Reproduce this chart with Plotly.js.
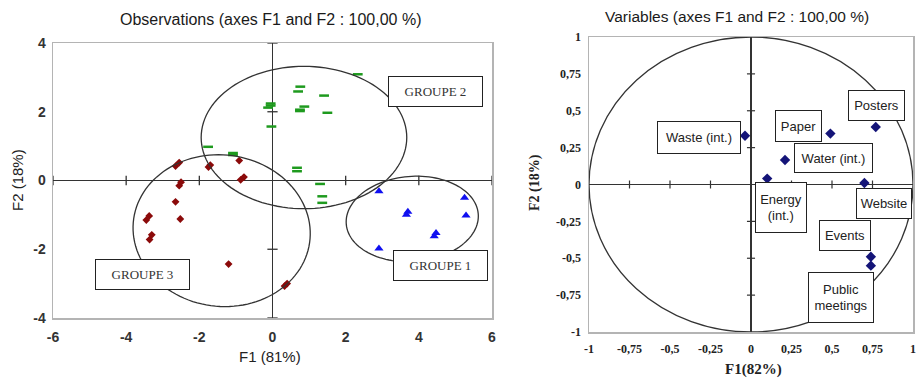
<!DOCTYPE html>
<html><head><meta charset="utf-8">
<script src="https://cdn.plot.ly/plotly-3.0.1.min.js"></script>
<style>html,body{margin:0;padding:0;background:#fff}#chart{width:921px;height:379px}</style>
</head><body><div id="chart"></div>
<script>
// ---------- Observations (left) ----------
const g3X = [-2.65,-2.55,-1.75,-1.70,-0.91,-0.87,-0.78,-2.55,-2.50,-2.65,-2.52,-3.45,-3.37,-3.36,-3.30,-1.20,0.33,0.40];
const g3Y = [0.42,0.52,0.39,0.45,0.58,0.02,0.10,-0.15,-0.05,-0.62,-1.12,-1.15,-1.03,-1.72,-1.58,-2.43,-3.07,-3.00];
const g2X = [0.76,0.70,1.41,-0.05,-0.05,-0.12,0.75,0.75,0.87,1.50,-0.03,-1.76,-1.08,-1.08,0.67,0.67,1.30,1.36,1.36,2.33];
const g2Y = [2.73,2.59,2.47,2.24,2.18,2.12,2.06,2.02,2.15,1.97,1.57,0.98,0.80,0.74,0.37,0.27,-0.10,-0.46,-0.65,3.09];
const g1X = [2.91,5.25,5.29,3.70,3.66,4.47,4.42,2.91];
const g1Y = [-0.31,-0.50,-1.02,-0.91,-1.00,-1.53,-1.62,-1.98];
const obsTicks = [-6,-4,-2,0,2,4,6];
const obsTickText = ['-6','-4','-2','0','2','4','6'];
const obsYTicks = [-4,-2,0,2,4];
const obsYTickText = ['-4','-2','0','2','4'];
// group ellipses: centre x, centre y, half-width, half-height, tilt (deg)
const ellCx = [3.82, 0.86, -1.39];
const ellCy = [-1.12, 1.25, -1.46];
const ellA  = [1.81, 2.81, 2.43];
const ellB  = [1.24, 2.07, 2.20];
const ellT  = [5, 0, -11];
const groupLabels = ['GROUPE 1','GROUPE 2','GROUPE 3'];
const groupLabelX = [4.60, 4.45, -3.56];
const groupLabelY = [-2.48, 2.60, -2.73];

// ---------- Variables (right) ----------
const varNames = ['Waste (int.)','Paper','Posters','Water (int.)','Energy<br>(int.)','Website','Events','Public<br>meetings'];
const varX = [-0.037,0.49,0.77,0.21,0.10,0.70,0.74,0.74];
const varY = [0.33,0.345,0.39,0.166,0.04,0.01,-0.49,-0.55];
const varLabelX = [-0.32,0.292,0.775,0.511,0.184,0.819,0.582,0.557];
const varLabelY = [0.322,0.397,0.537,0.182,-0.153,-0.131,-0.346,-0.769];
const varLabelW = [80,43,53,75,48,52,48,62];
const varLabelH = [29,28,27,26,47,27,27,47];
const varTicks = [-1,-0.75,-0.5,-0.25,0,0.25,0.5,0.75,1];
const varTickText = ['-1','-0,75','-0,5','-0,25','0','0,25','0,5','0,75','1'];

function ellipsePath(cx, cy, a, b, tdeg){
  const t = tdeg*Math.PI/180, n = 120; let p = '';
  for(let i=0;i<=n;i++){
    const u = 2*Math.PI*i/n;
    const x = cx + a*Math.cos(u)*Math.cos(t) - b*Math.sin(u)*Math.sin(t);
    const y = cy + a*Math.cos(u)*Math.sin(t) + b*Math.sin(u)*Math.cos(t);
    p += (i===0?'M':'L') + x.toFixed(4) + ',' + y.toFixed(4);
  }
  return p + 'Z';
}

const traces = [
  {x:g3X, y:g3Y, xaxis:'x', yaxis:'y', mode:'markers', type:'scatter', hoverinfo:'skip',
   marker:{symbol:'diamond', size:6, color:'#8b0a0a'}},
  {x:g2X, y:g2Y, xaxis:'x', yaxis:'y', mode:'markers', type:'scatter', hoverinfo:'skip',
   marker:{symbol:'line-ew', size:7, color:'#1e9a1e', line:{color:'#1e9a1e', width:2.5}}},
  {x:g1X, y:g1Y, xaxis:'x', yaxis:'y', mode:'markers', type:'scatter', hoverinfo:'skip',
   marker:{symbol:'triangle-up', size:8, color:'#1010f0'}},
  {x:varX, y:varY, xaxis:'x2', yaxis:'y2', mode:'markers', type:'scatter', hoverinfo:'skip',
   marker:{symbol:'diamond', size:8, color:'#141478'}}
];

const shapes = [];
for(let i=0;i<ellCx.length;i++){
  shapes.push({type:'path', xref:'x', yref:'y', path:ellipsePath(ellCx[i],ellCy[i],ellA[i],ellB[i],ellT[i]),
    line:{color:'#333', width:1.3}});
}
shapes.push({type:'circle', xref:'x2', yref:'y2', x0:-1, x1:1, y0:-1, y1:1, line:{color:'#333', width:1.3}});
obsTicks.filter(v=>v!==0).forEach(v=>shapes.push({type:'line', xref:'x', yref:'y', x0:v, x1:v, y0:-0.14, y1:0.14, line:{color:'#333', width:1.3}}));
obsYTicks.filter(v=>v!==0).forEach(v=>shapes.push({type:'line', xref:'x', yref:'y', y0:v, y1:v, x0:-0.14, x1:0.14, line:{color:'#333', width:1.3}}));
varTicks.filter(v=>v!==0 && Math.abs(v)!==1).forEach(v=>{
  shapes.push({type:'line', xref:'x2', yref:'y2', x0:v, x1:v, y0:-0.027, y1:0.027, line:{color:'#333', width:1.2}});
  shapes.push({type:'line', xref:'x2', yref:'y2', y0:v, y1:v, x0:-0.025, x1:0.025, line:{color:'#333', width:1.2}});
});

const annotations = [
  {xref:'paper', yref:'paper', x:270/921, y:1-20/379, xanchor:'center', yanchor:'middle', showarrow:false,
   text:'Observations (axes F1 and F2 : 100,00 %)', font:{family:'Liberation Sans, Arial', size:16, color:'#1a1a1a'}},
  {xref:'paper', yref:'paper', x:737/921, y:1-17/379, xanchor:'center', yanchor:'middle', showarrow:false,
   text:'Variables (axes F1 and F2 : 100,00 %)', font:{family:'Liberation Sans, Arial', size:15.5, color:'#1a1a1a'}},
  {xref:'paper', yref:'paper', x:270/921, y:1-356/379, xanchor:'center', yanchor:'middle', showarrow:false,
   text:'F1 (81%)', font:{family:'Liberation Sans, Arial', size:15, color:'#222'}},
  {xref:'paper', yref:'paper', x:17/921, y:1-180/379, xanchor:'center', yanchor:'middle', showarrow:false, textangle:-90,
   text:'F2 (18%)', font:{family:'Liberation Sans, Arial', size:15, color:'#222'}},
  {xref:'paper', yref:'paper', x:753/921, y:1-369/379, xanchor:'center', yanchor:'middle', showarrow:false,
   text:'<b>F1(82%)</b>', font:{family:'Liberation Serif, Times New Roman', size:15, color:'#222'}},
  {xref:'paper', yref:'paper', x:535/921, y:1-183/379, xanchor:'center', yanchor:'middle', showarrow:false, textangle:-90,
   text:'<b>F2 (18%)</b>', font:{family:'Liberation Serif, Times New Roman', size:14, color:'#222'}}
];
groupLabels.forEach((t,i)=>annotations.push({xref:'x', yref:'y', x:groupLabelX[i], y:groupLabelY[i], xanchor:'center', yanchor:'middle',
  showarrow:false, text:t, width:91, height:27, borderpad:1, borderwidth:1, bordercolor:'#222', bgcolor:'#fff',
  font:{family:'Liberation Serif, Times New Roman', size:13, color:'#333'}}));
varNames.forEach((t,i)=>annotations.push({xref:'x2', yref:'y2', x:varLabelX[i], y:varLabelY[i], xanchor:'center', yanchor:'middle',
  showarrow:false, text:t, width:varLabelW[i], height:varLabelH[i], borderpad:1, borderwidth:1, bordercolor:'#222', bgcolor:'#fff',
  font:{family:'Liberation Sans, Arial', size:13, color:'#222'}}));

const frame = {showline:true, mirror:true, linecolor:'#b4b4b4', linewidth:1.5, showgrid:false,
  zeroline:true, zerolinecolor:'#333', zerolinewidth:1.4, ticks:'', fixedrange:true};

const layout = {
  width:921, height:379, margin:{l:0,r:0,t:0,b:0}, showlegend:false,
  paper_bgcolor:'#fff', plot_bgcolor:'#fff',
  xaxis:Object.assign({}, frame, {domain:[53/921, 492/921], range:[-6,6], tickmode:'array', tickvals:obsTicks, ticktext:obsTickText,
    ticklabelstandoff:6, tickfont:{family:'Liberation Sans, Arial', size:14, color:'#333', weight:'bold'}}),
  yaxis:Object.assign({}, frame, {domain:[1-318/379, 1-43/379], range:[-4,4], tickmode:'array', tickvals:obsYTicks, ticktext:obsYTickText,
    ticklabelstandoff:3, tickfont:{family:'Liberation Sans, Arial', size:14, color:'#333', weight:'bold'}}),
  xaxis2:Object.assign({}, frame, {anchor:'y2', domain:[589/921, 913/921], range:[-1,1], tickmode:'array', tickvals:varTicks, ticktext:varTickText,
    ticklabelstandoff:5, tickfont:{family:'Liberation Serif, Times New Roman', size:12, color:'#222', weight:'bold'}}),
  yaxis2:Object.assign({}, frame, {anchor:'x2', domain:[1-332/379, 1-37/379], range:[-1,1], tickmode:'array', tickvals:varTicks, ticktext:varTickText,
    ticklabelstandoff:4, tickfont:{family:'Liberation Serif, Times New Roman', size:12, color:'#222', weight:'bold'}}),
  shapes:shapes, annotations:annotations
};

Plotly.newPlot('chart', traces, layout, {staticPlot:true, displayModeBar:false});
</script></body></html>
